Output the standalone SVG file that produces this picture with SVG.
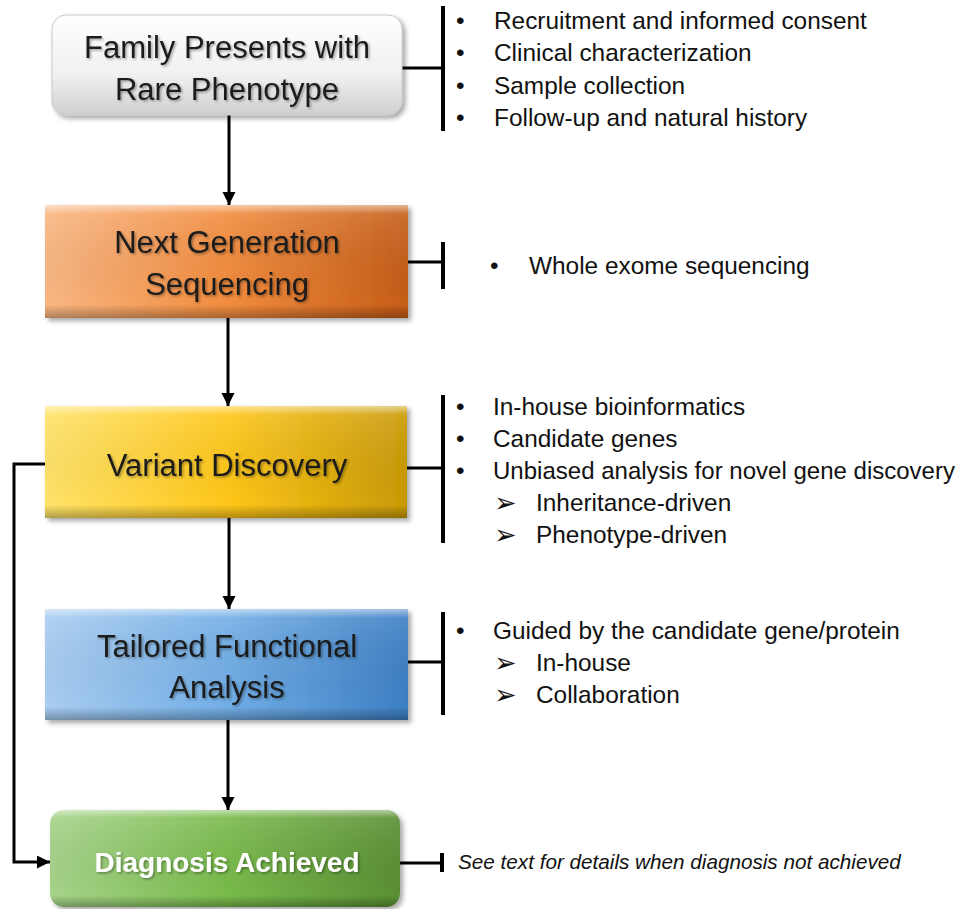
<svg xmlns="http://www.w3.org/2000/svg" width="963" height="909" viewBox="0 0 963 909">
<defs>
<style>
.lbl{font-family:"Liberation Sans",Arial,sans-serif;font-size:31px;fill:#1a1a1a;text-anchor:middle}
.lblw{font-family:"Liberation Sans",Arial,sans-serif;font-size:28px;font-weight:bold;fill:#ffffff;text-anchor:middle}
.txt{font-family:"Liberation Sans",Arial,sans-serif;font-size:24.4px;fill:#111}
.note{font-family:"Liberation Sans",Arial,sans-serif;font-size:20.7px;font-style:italic;fill:#111}
.arr{font-family:"DejaVu Sans",sans-serif;font-size:27px;fill:#111}
.conn{fill:none;stroke:#000;stroke-width:3}
.bar{fill:none;stroke:#000;stroke-width:4}
.bevel{fill:url(#bevelV)}
</style>
<linearGradient id="gGray" x1="0" y1="0" x2="0" y2="1">
<stop offset="0" stop-color="#ffffff"/><stop offset="0.6" stop-color="#f0f0f0"/><stop offset="1" stop-color="#cfcfcf"/>
</linearGradient>
<linearGradient id="gOrange" x1="0" y1="0" x2="1" y2="0">
<stop offset="0" stop-color="#f9b783"/><stop offset="0.5" stop-color="#f28c3e"/><stop offset="1" stop-color="#c55d18"/>
</linearGradient>
<linearGradient id="gYellow" x1="0" y1="0" x2="1" y2="0">
<stop offset="0" stop-color="#ffe36a"/><stop offset="0.5" stop-color="#ffc71a"/><stop offset="1" stop-color="#c99a05"/>
</linearGradient>
<linearGradient id="gBlue" x1="0" y1="0" x2="1" y2="0">
<stop offset="0" stop-color="#a9cdf1"/><stop offset="0.5" stop-color="#72aee6"/><stop offset="1" stop-color="#3d7fc4"/>
</linearGradient>
<linearGradient id="gGreen" x1="0" y1="0" x2="1" y2="0">
<stop offset="0" stop-color="#a6d38a"/><stop offset="0.5" stop-color="#79bb4c"/><stop offset="1" stop-color="#5a8f34"/>
</linearGradient>
<linearGradient id="bevelV" x1="0" y1="0" x2="0" y2="1">
<stop offset="0" stop-color="#ffffff" stop-opacity="0.55"/>
<stop offset="0.08" stop-color="#ffffff" stop-opacity="0.1"/>
<stop offset="0.88" stop-color="#000000" stop-opacity="0"/>
<stop offset="1" stop-color="#000000" stop-opacity="0.3"/>
</linearGradient>
<filter id="shadow" x="-10%" y="-10%" width="125%" height="130%">
<feDropShadow dx="3" dy="3" stdDeviation="2.5" flood-color="#000" flood-opacity="0.35"/>
</filter>
<filter id="tshadow" x="-5%" y="-20%" width="115%" height="150%">
<feDropShadow dx="1.5" dy="1.5" stdDeviation="1.2" flood-color="#000" flood-opacity="0.35"/>
</filter>
<marker id="ah" markerUnits="userSpaceOnUse" markerWidth="14" markerHeight="14" refX="13" refY="6.5" orient="auto">
<path d="M0,0 L13,6.5 L0,13 z" fill="#000"/>
</marker>
</defs>
<rect width="963" height="909" fill="#fff"/>

<g id="connectors">
<line class="conn" x1="229" y1="115" x2="229" y2="205" marker-end="url(#ah)"/>
<line class="conn" x1="228" y1="318" x2="228" y2="406" marker-end="url(#ah)"/>
<line class="conn" x1="229" y1="518" x2="229" y2="609" marker-end="url(#ah)"/>
<line class="conn" x1="228" y1="720" x2="228" y2="810" marker-end="url(#ah)"/>
<path class="conn" d="M45,464 H14 V862 H50" marker-end="url(#ah)"/>
<line class="conn" x1="402" y1="68" x2="443" y2="68"/>
<line class="bar" x1="443" y1="6" x2="443" y2="131"/>
<line class="conn" x1="408" y1="262" x2="443" y2="262"/>
<line class="bar" x1="443" y1="242" x2="443" y2="289"/>
<line class="conn" x1="407" y1="468" x2="443" y2="468"/>
<line class="bar" x1="443" y1="395" x2="443" y2="543"/>
<line class="conn" x1="408" y1="662" x2="443" y2="662"/>
<line class="bar" x1="443" y1="612" x2="443" y2="715"/>
<line class="conn" x1="400" y1="863" x2="442" y2="863"/>
<line class="bar" x1="442" y1="853" x2="442" y2="872"/>
</g>

<g id="node-family">
<rect x="52" y="15" width="350" height="100" rx="14" fill="url(#gGray)" stroke="#c8c8c8" stroke-width="1" filter="url(#shadow)"/>
<g filter="url(#tshadow)">
<text class="lbl" x="227" y="58">Family Presents with</text>
<text class="lbl" x="227" y="100">Rare Phenotype</text>
</g>
</g>

<g id="node-ngs">
<rect x="45" y="205" width="363" height="113" fill="url(#gOrange)" filter="url(#shadow)"/>
<rect class="bevel" x="45" y="205" width="363" height="113"/>
<g filter="url(#tshadow)">
<text class="lbl" x="227" y="253">Next Generation</text>
<text class="lbl" x="227" y="295">Sequencing</text>
</g>
</g>

<g id="node-variant">
<rect x="45" y="406" width="362" height="112" fill="url(#gYellow)" filter="url(#shadow)"/>
<rect class="bevel" x="45" y="406" width="362" height="112"/>
<g filter="url(#tshadow)">
<text class="lbl" x="227" y="476">Variant Discovery</text>
</g>
</g>

<g id="node-functional">
<rect x="45" y="609" width="363" height="111" fill="url(#gBlue)" filter="url(#shadow)"/>
<rect class="bevel" x="45" y="609" width="363" height="111"/>
<g filter="url(#tshadow)">
<text class="lbl" x="227" y="657">Tailored Functional</text>
<text class="lbl" x="227" y="698">Analysis</text>
</g>
</g>

<g id="node-diagnosis">
<rect x="50" y="810" width="350" height="97" rx="14" fill="url(#gGreen)" filter="url(#shadow)"/>
<rect class="bevel" x="50" y="810" width="350" height="97" rx="14"/>
<g filter="url(#tshadow)">
<text class="lblw" x="227" y="872">Diagnosis Achieved</text>
</g>
</g>

<g id="notes-family">
<text class="txt" x="456" y="29">•</text><text class="txt" x="494" y="29">Recruitment and informed consent</text>
<text class="txt" x="456" y="61">•</text><text class="txt" x="494" y="61">Clinical characterization</text>
<text class="txt" x="456" y="94">•</text><text class="txt" x="494" y="94">Sample collection</text>
<text class="txt" x="456" y="126">•</text><text class="txt" x="494" y="126">Follow-up and natural history</text>
</g>

<g id="notes-ngs">
<text class="txt" x="490" y="274">•</text><text class="txt" x="529" y="274">Whole exome sequencing</text>
</g>

<g id="notes-variant">
<text class="txt" x="456" y="415">•</text><text class="txt" x="493" y="415">In-house bioinformatics</text>
<text class="txt" x="456" y="447">•</text><text class="txt" x="493" y="447">Candidate genes</text>
<text class="txt" x="456" y="479" >•</text><text class="txt" x="493" y="479" textLength="462" lengthAdjust="spacingAndGlyphs">Unbiased analysis for novel gene discovery</text>
<text class="arr" x="494" y="512">➢</text><text class="txt" x="536" y="511">Inheritance-driven</text>
<text class="arr" x="494" y="544">➢</text><text class="txt" x="536" y="543">Phenotype-driven</text>
</g>

<g id="notes-functional">
<text class="txt" x="456" y="639">•</text><text class="txt" x="493" y="639">Guided by the candidate gene/protein</text>
<text class="arr" x="494" y="672">➢</text><text class="txt" x="536" y="671">In-house</text>
<text class="arr" x="494" y="704">➢</text><text class="txt" x="536" y="703">Collaboration</text>
</g>

<g id="notes-diagnosis">
<text class="note" x="458" y="869">See text for details when diagnosis not achieved</text>
</g>
</svg>
